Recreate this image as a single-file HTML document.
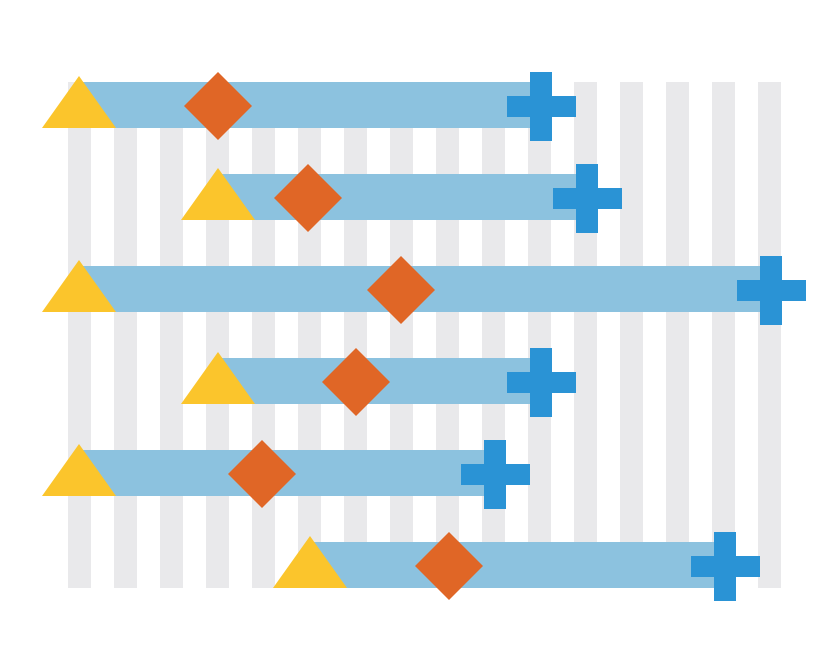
<!DOCTYPE html>
<html><head><style>html,body{margin:0;padding:0;background:#fff}svg{display:block}</style></head>
<body>
<svg width="835" height="670" viewBox="0 0 835 670" xmlns="http://www.w3.org/2000/svg">
<g fill="#e9e9eb">
<rect x="68" y="82" width="23" height="506"/><rect x="114" y="82" width="23" height="506"/><rect x="160" y="82" width="23" height="506"/><rect x="206" y="82" width="23" height="506"/><rect x="252" y="82" width="23" height="506"/><rect x="298" y="82" width="23" height="506"/><rect x="344" y="82" width="23" height="506"/><rect x="390" y="82" width="23" height="506"/><rect x="436" y="82" width="23" height="506"/><rect x="482" y="82" width="23" height="506"/><rect x="528" y="82" width="23" height="506"/><rect x="574" y="82" width="23" height="506"/><rect x="620" y="82" width="23" height="506"/><rect x="666" y="82" width="23" height="506"/><rect x="712" y="82" width="23" height="506"/><rect x="758" y="82" width="23" height="506"/>
</g>
<g fill="#8cc2df">
<rect x="80" y="82" width="461" height="46"/>
<rect x="218" y="174" width="369" height="46"/>
<rect x="80" y="266" width="691" height="46"/>
<rect x="218" y="358" width="323" height="46"/>
<rect x="80" y="450" width="415" height="46"/>
<rect x="310" y="542" width="415" height="46"/>
</g>
<g fill="#fbc52c">
<polygon points="42,128 116,128 79,76"/>
<polygon points="181,220 255,220 218,168"/>
<polygon points="42,312 116,312 79,260"/>
<polygon points="181,404 255,404 218,352"/>
<polygon points="42,496 116,496 79,444"/>
<polygon points="273,588 347,588 310,536"/>
</g>
<g fill="#e06626">
<polygon points="218,72 252,106 218,140 184,106"/>
<polygon points="308,164 342,198 308,232 274,198"/>
<polygon points="401,256 435,290 401,324 367,290"/>
<polygon points="356,348 390,382 356,416 322,382"/>
<polygon points="262,440 296,474 262,508 228,474"/>
<polygon points="449,532 483,566 449,600 415,566"/>
</g>
<g fill="#2a93d5">
<path d="M530,72h22v24h24v21h-24v24h-22v-24h-23v-21h23z"/>
<path d="M576,164h22v24h24v21h-24v24h-22v-24h-23v-21h23z"/>
<path d="M760,256h22v24h24v21h-24v24h-22v-24h-23v-21h23z"/>
<path d="M530,348h22v24h24v21h-24v24h-22v-24h-23v-21h23z"/>
<path d="M484,440h22v24h24v21h-24v24h-22v-24h-23v-21h23z"/>
<path d="M714,532h22v24h24v21h-24v24h-22v-24h-23v-21h23z"/>
</g>
</svg>
</body></html>
